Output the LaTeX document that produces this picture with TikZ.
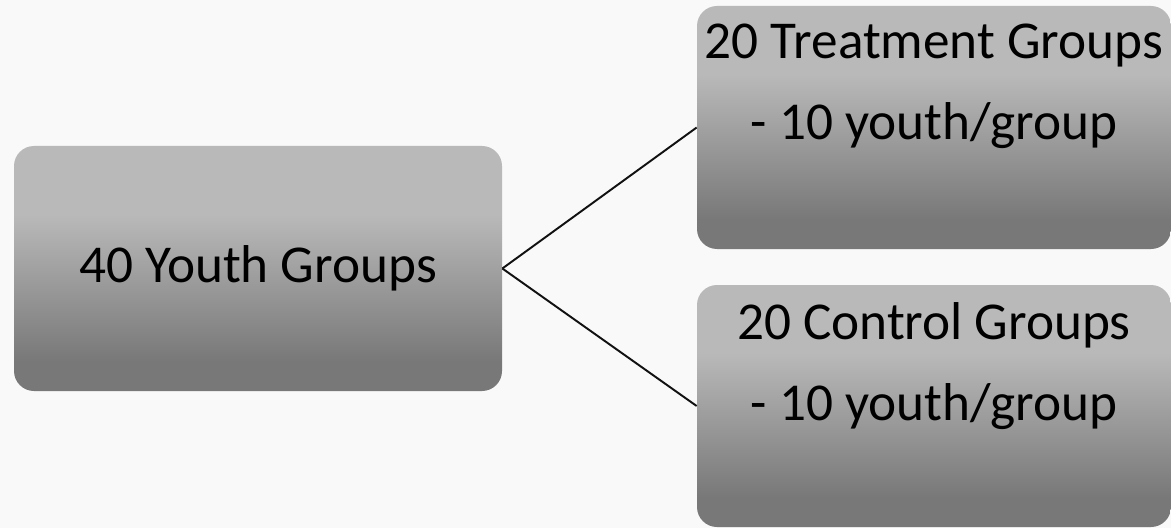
\documentclass[tikz,border=0pt]{standalone}
\usepackage{fontspec}
\setmainfont{Carlito}
\usetikzlibrary{positioning}

\definecolor{pagebg}{HTML}{F9F9F9}
\definecolor{boxtop}{HTML}{B9B9B9}
\definecolor{boxbot}{HTML}{787878}
\definecolor{linecol}{HTML}{111111}

% light top, darker lower part
\pgfdeclareverticalshading{grpshade}{100bp}{color(0bp)=(boxbot); color(31bp)=(boxbot);
  color(61bp)=(boxtop); color(100bp)=(boxtop)}

\tikzset{
  grpbox/.style={rectangle, rounded corners=0.4cm, shading=grpshade, draw=none,
    inner sep=0pt},
  grptext/.style={inner sep=0pt, align=center, text=black,
    font=\fontsize{30.3pt}{45.8pt}\selectfont},
  split/.style={draw=linecol, line width=1.1pt}
}

\begin{document}
\begin{tikzpicture}
\fill[pagebg] (0,0) rectangle (23.42,10.56);
\useasboundingbox (0,0) rectangle (23.42,10.56);
% all youth groups
\node[grpbox, minimum width=9.76cm, minimum height=4.9cm] (all) at (5.16,5.19) {};
\node[grptext] (alltext) at (all.center) {40 Youth Groups};
% the two arms
\node[grpbox, minimum width=9.48cm, minimum height=4.86cm] (treat) at (18.68,8.01) {};
\node[grpbox, minimum width=9.48cm, minimum height=4.84cm] (ctrl) at (18.68,2.44) {};
\node[grptext, below=0.36cm of treat.north] (treattext)
  {20 Treatment Groups\\- 10 youth/group};
\node[grptext, below=0.36cm of ctrl.north] (ctrltext)
  {20 Control Groups\\- 10 youth/group};
\draw[split] (all.east) -- (treat.west);
\draw[split] (all.east) -- (ctrl.west);
\end{tikzpicture}
\end{document}
